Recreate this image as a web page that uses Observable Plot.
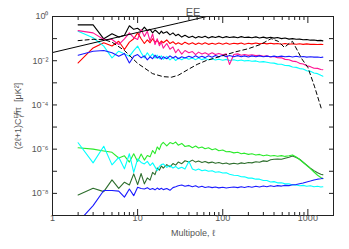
<!DOCTYPE html>
<html><head><meta charset="utf-8">
<script src="https://cdn.jsdelivr.net/npm/d3@7"></script>
<script src="https://cdn.jsdelivr.net/npm/@observablehq/plot@0.6"></script>
<style>body{margin:0;background:#fff}svg{display:block}</style>
</head><body><div id="chart"></div>
<script>
// multipoles
const ellLow = [2,3,4,5,6,7,8,9,10,11,12,13,14,15,16,17,18,19];
const ellHigh = [20,22,24,26,28,30,33,36,40,44,48,52,57,62,68,75,82,90,100,110,120,135,150,165,180,200,220,245,270,300,330,365,400,440,490,540,600,660,730,800,880,970,1070,1180,1300,1420,1500];
const ell = ellLow.concat(ellHigh);

// upper group
const blackC = [0.42,0.42,0.098,0.166,0.117,0.141,0.38,0.263,0.295,0.219,0.331,0.229,0.263,0.182,0.245,0.204,0.162,0.219,
  0.174,0.204,0.148,0.182,0.135,0.158,0.117,0.141,0.112,0.129,0.107,0.123,0.112,0.129,0.107,0.123,0.112,0.126,0.110,0.123,0.112,0.120,0.110,0.123,0.112,0.117,0.110,0.120,0.107,0.117,0.105,0.115,0.105,0.112,0.100,0.107,0.095,0.100,0.093,0.095,0.089,0.091,0.085,0.087,0.081,0.083,0.079];
const redC = [0.0079,0.038,0.065,0.046,0.076,0.032,0.069,0.098,0.182,0.098,0.060,0.087,0.065,0.098,0.069,0.083,0.060,0.078,
  0.065,0.087,0.060,0.072,0.056,0.065,0.054,0.069,0.056,0.065,0.054,0.063,0.056,0.065,0.055,0.062,0.056,0.063,0.056,0.063,0.056,0.062,0.058,0.063,0.056,0.062,0.058,0.063,0.058,0.062,0.058,0.062,0.058,0.060,0.056,0.060,0.056,0.059,0.056,0.059,0.055,0.058,0.055,0.056,0.054,0.055,0.054];
const magentaC = [0.229,0.182,0.091,0.091,0.054,0.098,0.182,0.112,0.091,0.257,0.126,0.214,0.078,0.162,0.054,0.098,0.048,0.069,
  0.037,0.060,0.033,0.042,0.023,0.033,0.020,0.029,0.023,0.026,0.019,0.0245,0.020,0.023,0.019,0.023,0.019,0.0214,0.0186,0.0204,0.0068,0.019,0.0204,0.0178,0.019,0.0174,0.0186,0.017,0.0178,0.0158,0.0166,0.0148,0.0155,0.0136,0.0135,0.0115,0.0110,0.0096,0.0091,0.0076,0.0071,0.0059,0.0054,0.0046,0.0045,0.0040,0.0039];
const blueC = [0.0178,0.0269,0.0288,0.0229,0.0158,0.0214,0.0079,0.0158,0.019,0.0135,0.0166,0.011,0.0151,0.0123,0.0178,0.0132,0.0158,0.0117,
  0.0151,0.0123,0.0166,0.0132,0.0158,0.0123,0.0151,0.0132,0.0158,0.0138,0.0166,0.0141,0.0158,0.0138,0.0166,0.0145,0.0174,0.0151,0.0178,0.0151,0.0174,0.0151,0.0170,0.0151,0.0166,0.0148,0.0166,0.0151,0.0166,0.0151,0.0162,0.0151,0.0162,0.0151,0.0162,0.0151,0.0158,0.0148,0.0158,0.0148,0.0155,0.0145,0.0151,0.0145,0.0148,0.0141,0.0145];
const cyanC = [0.214,0.110,0.046,0.0135,0.0269,0.0204,0.0158,0.0288,0.046,0.0229,0.0135,0.0229,0.0151,0.0204,0.0132,0.0178,0.0123,0.0166,
  0.0117,0.0158,0.0110,0.0141,0.0102,0.0132,0.0110,0.0138,0.0117,0.0132,0.0112,0.0132,0.0112,0.0126,0.0110,0.0123,0.0107,0.0117,0.0105,0.0115,0.0102,0.0110,0.0100,0.0107,0.0098,0.0102,0.0094,0.0098,0.0088,0.0091,0.0086,0.0079,0.0078,0.0070,0.0069,0.0061,0.0060,0.0052,0.0050,0.0044,0.0042,0.0035,0.0033,0.0028,0.0026,0.0022,0.0020];

// dashed theory curve
const dashEll = [2,3,4,5,7,10,12,15,20,25,30,40,50,64,80,100,140,200,280,370,450,530,600,660,750,850,1000,1200,1440];
const dashC = [0.081,0.093,0.091,0.069,0.029,0.0076,0.0047,0.0026,0.0019,0.0018,0.0022,0.0042,0.0068,0.0102,0.013,0.017,0.025,0.035,0.055,0.10,0.075,0.040,0.060,0.075,0.030,0.012,0.0050,0.00066,0.000068];

// rising solid black line
const riseEll = [1,10,30,65];
const riseC = [0.0234,0.19,0.50,1.0];

// lower group
const greenC = [1.15e-6,1.0e-6,8.3e-7,7.2e-7,4.0e-7,5.0e-7,2.6e-7,6.2e-7,2.8e-7,6.0e-7,3.2e-7,5.2e-7,4.5e-7,8.7e-7,6.3e-7,1.26e-6,9.5e-7,1.66e-6,
  2.04e-6,1.41e-6,2.0e-6,1.74e-6,2.1e-6,1.51e-6,1.82e-6,1.32e-6,1.45e-6,1.17e-6,1.38e-6,1.12e-6,1.26e-6,1.05e-6,1.15e-6,9.5e-7,1.05e-6,8.5e-7,9.1e-7,7.6e-7,7.9e-7,6.8e-7,7.2e-7,6.2e-7,6.6e-7,5.8e-7,6.2e-7,5.4e-7,5.8e-7,5.0e-7,5.5e-7,4.9e-7,5.2e-7,4.8e-7,5.1e-7,4.7e-7,5.0e-7,5.5e-7,4.4e-7,3.4e-7,2.5e-7,1.82e-7,1.32e-7,9.3e-8,6.6e-8,5.2e-8,4.6e-8];
const darkGreenC = [8.5e-9,1.7e-8,1.2e-8,4.1e-8,1.7e-8,3.2e-8,2.4e-8,7.6e-8,2.5e-8,7.9e-8,2.7e-8,5.0e-8,4.0e-8,8.9e-8,7.1e-8,1.41e-7,1.12e-7,1.74e-7,
  1.38e-7,2.0e-7,1.58e-7,2.24e-7,1.9e-7,2.6e-7,2.2e-7,3.0e-7,2.6e-7,3.2e-7,2.6e-7,2.9e-7,2.5e-7,2.75e-7,2.4e-7,2.6e-7,2.3e-7,2.5e-7,2.2e-7,2.35e-7,2.1e-7,2.3e-7,2.15e-7,2.4e-7,2.24e-7,2.5e-7,2.4e-7,2.7e-7,2.57e-7,2.95e-7,2.8e-7,3.3e-7,3.5e-7,3.6e-7,3.5e-7,3.9e-7,4.3e-7,4.9e-7,4.2e-7,3.5e-7,2.6e-7,1.9e-7,1.38e-7,1.07e-7,8.5e-8,7.4e-8,6.9e-8];
const cyanLowC = [1.95e-6,2.4e-7,1.35e-6,1.95e-7,4.3e-7,1.29e-7,6.2e-7,8.9e-8,3.6e-7,2.5e-7,2.15e-7,2.8e-7,1.82e-7,2.4e-7,1.58e-7,1.07e-7,1.66e-7,2.0e-7,
  2.15e-7,1.51e-7,1.82e-7,1.41e-7,1.66e-7,1.32e-7,1.51e-7,1.26e-7,2.8e-7,1.26e-7,1.12e-7,1.26e-7,1.05e-7,1.15e-7,1.0e-7,1.05e-7,9.1e-8,9.5e-8,8.3e-8,8.5e-8,7.4e-8,6.6e-8,6.4e-8,5.7e-8,5.6e-8,4.9e-8,4.9e-8,4.4e-8,4.4e-8,3.8e-8,3.8e-8,3.3e-8,3.4e-8,3.0e-8,3.0e-8,2.7e-8,2.7e-8,2.4e-8,2.4e-8,2.2e-8,2.3e-8,2.1e-8,2.2e-8,2.0e-8,2.1e-8,1.95e-8,2.0e-8];
const blueLowC = [5.0e-10,2.8e-9,1.35e-8,1.35e-8,1.26e-8,6.8e-9,1.58e-8,7.9e-9,1.9e-8,1.66e-8,1.58e-8,1.82e-8,1.51e-8,1.66e-8,1.45e-8,1.74e-8,1.51e-8,1.7e-8,
  1.48e-8,1.66e-8,1.38e-8,1.82e-8,2.0e-8,2.2e-8,2.4e-8,2.1e-8,2.3e-8,2.0e-8,2.2e-8,1.9e-8,2.1e-8,1.86e-8,2.0e-8,1.82e-8,1.95e-8,1.78e-8,1.9e-8,1.74e-8,1.86e-8,1.95e-8,1.82e-8,2.0e-8,1.86e-8,2.04e-8,1.9e-8,2.1e-8,1.95e-8,2.14e-8,2.0e-8,2.2e-8,2.04e-8,2.24e-8,2.14e-8,2.3e-8,2.24e-8,2.45e-8,2.5e-8,2.75e-8,2.95e-8,3.3e-8,3.6e-8,4.0e-8,4.4e-8,4.6e-8,4.8e-8];

// ticks
const xMajor = [1,10,100,1000];
const xMinor = [2,3,4,5,6,7,8,9,20,30,40,50,60,70,80,90,200,300,400,500,600,700,800,900,2000];
const yDecades = [1,1e-1,1e-2,1e-3,1e-4,1e-5,1e-6,1e-7,1e-8,1e-9];
const yLabeled = [1,1e-2,1e-4,1e-6,1e-8];

const series = [
  {values: darkGreenC, color: "#2d6e2d"},
  {values: greenC, color: "#2bea2b"},
  {values: cyanLowC, color: "#00ffff"},
  {values: blueLowC, color: "#1a1aff"},
  {values: blackC, color: "#000000"},
  {values: redC, color: "#ff0000"},
  {values: cyanC, color: "#00ffff"},
  {values: magentaC, color: "#ff1493"},
  {values: blueC, color: "#1a1aff"}
];

const sup = {"-":"⁻","0":"⁰","1":"¹","2":"²","3":"³","4":"⁴","5":"⁵","6":"⁶","7":"⁷","8":"⁸","9":"⁹"};
const fmtPow = d => "10" + String(Math.round(Math.log10(d))).split("").map(c => sup[c]).join("");
const pairs = (xs, ys) => xs.slice(0, Math.min(xs.length, ys.length)).map((x, i) => ({x, y: ys[i]}));

const textColor = "#555";
const chart = Plot.plot({
  width: 349, height: 249,
  marginLeft: 52, marginRight: 16, marginTop: 16, marginBottom: 34,
  style: {fontFamily: "Liberation Sans, Arial, sans-serif", fontSize: "9px", background: "#fff"},
  x: {type: "log", domain: [1, 2000]},
  y: {type: "log", domain: [1e-9, 1]},
  marks: [
    ...series.map(s => Plot.line(pairs(ell, s.values), {x: "x", y: "y", stroke: s.color, strokeWidth: 1.1, clip: true})),
    Plot.line(pairs(dashEll, dashC), {x: "x", y: "y", stroke: "#000", strokeWidth: 1, strokeDasharray: "4,3", clip: true}),
    Plot.line(pairs(riseEll, riseC), {x: "x", y: "y", stroke: "#000", strokeWidth: 1, clip: true}),
    Plot.frame({stroke: "#222"}),
    Plot.axisX({anchor: "bottom", ticks: xMajor, tickSize: -6, tickPadding: 5, tickFormat: d => String(d), fill: textColor, stroke: "#222", label: null}),
    Plot.axisX({anchor: "bottom", ticks: xMinor, tickSize: -3, tickFormat: () => "", stroke: "#222", label: null}),
    Plot.axisX({anchor: "top", ticks: xMajor, tickSize: -6, tickFormat: () => "", stroke: "#222", label: null}),
    Plot.axisX({anchor: "top", ticks: xMinor, tickSize: -3, tickFormat: () => "", stroke: "#222", label: null}),
    Plot.axisY({anchor: "left", ticks: yLabeled, tickSize: 0, tickPadding: 4, tickFormat: fmtPow, fill: textColor, label: null}),
    Plot.axisY({anchor: "left", ticks: yDecades, tickSize: -5, tickFormat: () => "", stroke: "#222", label: null}),
    Plot.axisY({anchor: "right", ticks: yDecades, tickSize: -5, tickFormat: () => "", stroke: "#222", label: null}),
    Plot.text(["EE"], {frameAnchor: "top", dy: -8, fontSize: 11, fill: textColor}),
    Plot.text(["Multipole, ℓ"], {frameAnchor: "bottom", dy: 20, fontSize: 9, fill: textColor})
  ]
});
document.getElementById("chart").appendChild(chart);

const svg = d3.select(chart);
const yl = svg.append("text")
  .attr("transform", "translate(21,116) rotate(-90)")
  .attr("text-anchor", "middle")
  .attr("fill", textColor)
  .attr("font-size", 9)
  .attr("font-family", "Liberation Sans, Arial, sans-serif");
yl.append("tspan").text("(2ℓ+1)C");
yl.append("tspan").attr("dy", -3).attr("font-size", 6).text("EE");
yl.append("tspan").attr("dx", -7).attr("dy", 6).attr("font-size", 6).text("ℓ");
yl.append("tspan").attr("dy", -3).text("/π  [μK²]");
</script>
</body></html>
